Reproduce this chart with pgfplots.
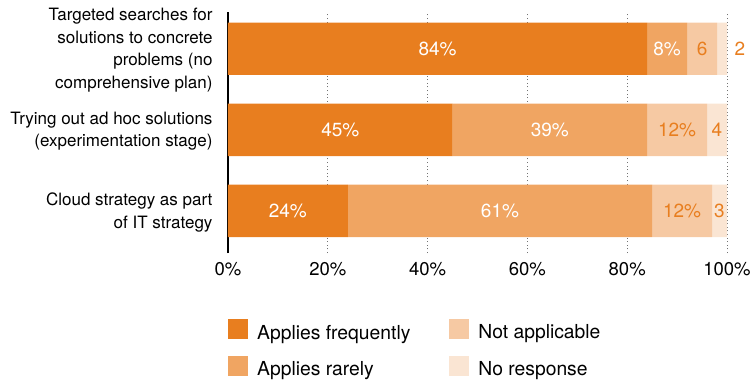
\documentclass[border=0pt]{standalone}
\usepackage{fontspec}
\setmainfont{TeX Gyre Heros}
\usepackage{pgfplots}
\pgfplotsset{compat=1.18}
\definecolor{c1}{HTML}{E87E1F}
\definecolor{c2}{HTML}{F0A562}
\definecolor{c3}{HTML}{F6C9A3}
\definecolor{c4}{HTML}{FAE5D3}
\newcommand{\lblfont}{\fontsize{17bp}{22.5bp}\selectfont}
\newcommand{\tickfont}{\fontsize{18.5bp}{22bp}\selectfont}
\newcommand{\barfont}{\fontsize{19bp}{22bp}\selectfont}
\newcommand{\legfont}{\fontsize{19.3bp}{22bp}\selectfont}
\begin{document}
\begin{tikzpicture}
\begin{axis}[
  name=main,
  scale only axis, width=499bp, height=241bp,
  xbar stacked, bar width=0.646,
  xmin=0, xmax=100, ymin=-0.52, ymax=2.454,
  axis lines*=left,
  x axis line style={draw=none},
  y axis line style={line width=1.6bp, black},
  tick style={draw=none},
  xtick={0,20,40,60,80,100},
  xticklabels={0\%,20\%,40\%,60\%,80\%,100\%},
  ytick={0,1,2},
  yticklabels={{Cloud strategy as part\\of IT strategy},{Trying out ad hoc solutions\\(experimentation stage)},{Targeted searches for\\solutions to concrete\\problems (no\\comprehensive plan)}},
  yticklabel style={align=right, font=\lblfont, xshift=-12bp, yshift=-1.5bp},
  xticklabel style={font=\tickfont, yshift=-6bp},
  xmajorgrids,
  grid style={black!55, line width=1bp, dash pattern=on 1bp off 2.6bp},
  legend columns=2, transpose legend,
  legend cell align=left,
  legend style={draw=none, fill=none, at={(0,0)}, anchor=north west, yshift=-66bp,
    font=\legfont, inner sep=0pt, row sep=13bp,
    /tikz/every odd column/.append style={column sep=7bp},
    /tikz/every even column/.append style={column sep=37bp}},
  legend image code/.code={\fill[#1] (0bp,-6.5bp) rectangle (20bp,13.5bp);},
]
\addplot[fill=c1, draw=none] coordinates {(84,2) (45,1) (24,0)};
\addlegendentry{Applies frequently}
\addplot[fill=c2, draw=none] coordinates {(8,2) (39,1) (61,0)};
\addlegendentry{Applies rarely}
\addplot[fill=c3, draw=none] coordinates {(6,2) (12,1) (12,0)};
\addlegendentry{Not applicable}
\addplot[fill=c4, draw=none] coordinates {(2,2) (4,1) (3,0)};
\addlegendentry{No response}
\end{axis}
\begin{axis}[
  scale only axis, width=499bp, height=241bp,
  xmin=0, xmax=100, ymin=-0.52, ymax=2.454,
  hide axis, clip=false,
]
\addplot[only marks, mark=none, nodes near coords={\pgfplotspointmeta\%},
  point meta=explicit symbolic, nodes near coords align={center},
  every node near coord/.append style={white, font=\barfont, anchor=center}]
  table[meta=l]{
x y l
42 2 84
88 2 8
22.5 1 45
64.5 1 39
12 0 24
54.5 0 61
};
\addplot[only marks, mark=none, nodes near coords={\pgfplotspointmeta\%},
  point meta=explicit symbolic, nodes near coords align={center},
  every node near coord/.append style={c1, font=\barfont, anchor=center}]
  table[meta=l]{
x y l
90 1 12
91 0 12
};
\addplot[only marks, mark=none, nodes near coords={\pgfplotspointmeta},
  point meta=explicit symbolic, nodes near coords align={center},
  every node near coord/.append style={c1, font=\barfont, anchor=center}]
  table[meta=l]{
x y l
95 2 6
102.6 2 2
98 1 4
98.5 0 3
};
\end{axis}
\pgfresetboundingbox
\path[use as bounding box] (main.south west) ++(-228bp,-130bp) rectangle ++(752bp,383bp);
\end{tikzpicture}
\end{document}
